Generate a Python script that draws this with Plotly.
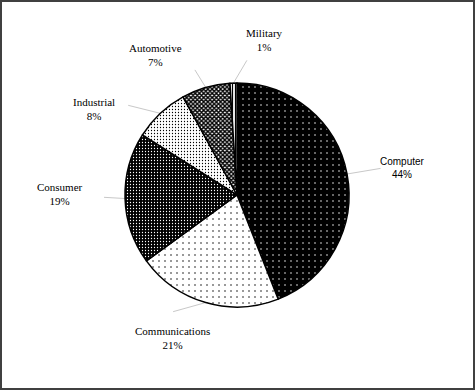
import math
import plotly.graph_objects as go

# ---- data ----
categories = ["Computer", "Communications", "Consumer", "Industrial", "Automotive", "Military"]
shares = [44, 21, 19, 8, 7, 1]

# ---- styling / layout params (not data) ----
W, H = 476, 391
CX, CY, R = 237, 195, 112          # pie centre & radius in px
pat_shape = [".", ".", ".", ".", "x", "|"]
pat_bg = ["#000000", "#ffffff", "#000000", "#ffffff", "#ffffff", "#ffffff"]
pat_fg = ["#ffffff", "#000000", "#ffffff", "#000000", "#000000", "#000000"]
pat_size = [6, 6, 3, 3, 3, 3]
pat_solid = [0.05, 0.05, 0.14, 0.14, 0.7, 0.4]
label_nudge = [1.6, 8, 2, -16, -14, 12]       # degrees away from slice mid-angle
label_dist = [168, 157, 177, 167, 162, 157]   # px from centre
leader_nudge = [0.3, 12.5, 0.8, -7.3, -2.4, 6]
leader_dist = [146, 133, 133, 141, 132, 135]
label_font = ["Liberation Sans", "Liberation Serif", "Liberation Serif",
              "Liberation Serif", "Liberation Serif", "Liberation Serif"]
label_size = [10, 11, 11, 11, 11, 11]

fig = go.Figure(go.Pie(
    labels=categories,
    values=shares,
    sort=False,
    direction="clockwise",
    rotation=0,
    textinfo="none",
    hoverinfo="label+percent",
    showlegend=False,
    domain=dict(x=[(CX - R) / W, (CX + R) / W], y=[1 - (CY + R) / H, 1 - (CY - R) / H]),
    marker=dict(
        colors=pat_bg,
        line=dict(color="#000000", width=1.5),
        pattern=dict(shape=pat_shape, bgcolor=pat_bg, fgcolor=pat_fg,
                     size=pat_size, solidity=pat_solid, fillmode="replace"),
    ),
))

def px2paper(x, y):
    return x / W, 1 - y / H

total = sum(shares)
cum = 0
annotations, shapes = [], []
for i, (cat, v) in enumerate(zip(categories, shares)):
    mid = (cum + v / 2) / total * 360
    cum += v
    pct = round(v / total * 100)
    la = math.radians(mid + label_nudge[i])
    lx = CX + label_dist[i] * math.sin(la)
    ly = CY - label_dist[i] * math.cos(la)
    ax, ay = px2paper(lx, ly)
    annotations.append(dict(
        x=ax, y=ay, xref="paper", yref="paper", showarrow=False,
        xanchor="center", yanchor="middle",
        text=f"{cat}<br>{pct}%", align="center",
        font=dict(family=label_font[i], size=label_size[i], color="#000000"),
    ))
    ma = math.radians(mid)
    ea = math.radians(mid + leader_nudge[i])
    ex, ey = CX + R * math.sin(ma), CY - R * math.cos(ma)
    tx, ty = CX + leader_dist[i] * math.sin(ea), CY - leader_dist[i] * math.cos(ea)
    x0, y0 = px2paper(ex, ey)
    x1, y1 = px2paper(tx, ty)
    shapes.append(dict(type="line", xref="paper", yref="paper", x0=x0, y0=y0, x1=x1, y1=y1,
                       line=dict(color="#c8c8c8", width=1), layer="below"))

# outer frame
shapes.append(dict(type="rect", xref="paper", yref="paper",
                   x0=1 / W, x1=(W - 2) / W, y0=1 - (H - 2) / H, y1=1 - 1 / H,
                   line=dict(color="#404040", width=2)))

fig.update_layout(
    width=W, height=H,
    margin=dict(l=0, r=0, t=0, b=0),
    paper_bgcolor="#ffffff", plot_bgcolor="#ffffff",
    annotations=annotations, shapes=shapes,
)

fig.write_html("out.html", config={"displayModeBar": False},
               post_script="document.body.style.margin='0';document.body.style.overflow='hidden';")
